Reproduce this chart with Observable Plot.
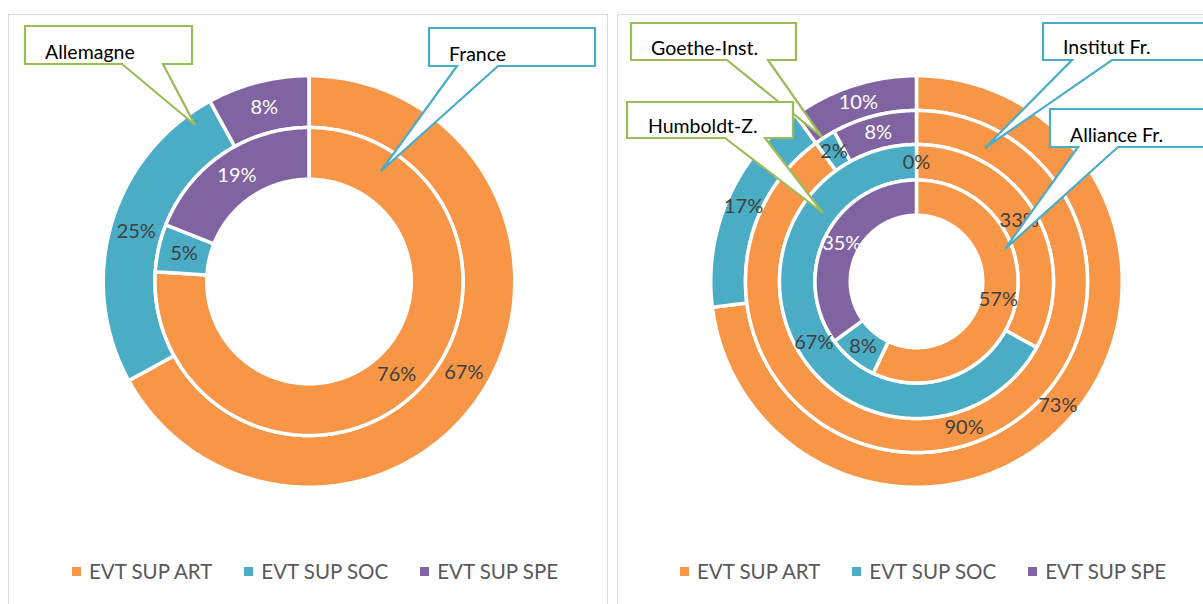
<!DOCTYPE html>
<html><head><meta charset="utf-8">
<script src="https://cdn.jsdelivr.net/npm/d3@7"></script>
<script src="https://cdn.jsdelivr.net/npm/@observablehq/plot@0.6"></script>
<style>
body{margin:0;width:1203px;height:604px;overflow:hidden;background:#fff;font-family:Lato,"Open Sans",sans-serif;position:relative}
.panel{position:absolute;border:1.5px solid #D9D9D9;pointer-events:none;z-index:3;box-sizing:border-box}
.chart{position:absolute;top:0}
.chart svg{background:transparent !important;overflow:hidden}
.legend{position:absolute;top:559px;display:flex;align-items:center;font-size:20.5px;color:#595959;white-space:nowrap;z-index:4}
.legend .item{display:flex;align-items:center;margin-right:32px}
.legend .sw{width:9px;height:9px;margin-right:8px}
</style></head><body>
<div id="left" class="chart" style="left:0"></div>
<div id="right" class="chart" style="left:612px"></div>
<div class="panel" style="left:8px;top:14px;width:600px;height:620px"></div>
<div class="panel" style="left:617px;top:14px;width:620px;height:620px"></div>
<div id="legL" class="legend" style="left:72px"></div>
<div id="legR" class="legend" style="left:680px"></div>
<script>
// ---- data ----
const categories = ["EVT SUP ART", "EVT SUP SOC", "EVT SUP SPE"];
const colors = ["#F79646", "#4BACC6", "#8064A2"];
// left chart: rings from outside to inside
const leftOuter = [67, 25, 8];
const leftInner = [76, 5, 19];
// right chart: rings from outside to inside
const rightRing1 = [73, 17, 10];
const rightRing2 = [90, 2, 8];
const rightRing3 = [33, 67, 0];
const rightRing4 = [57, 8, 35];
const leftCallouts = ["Allemagne", "France"];
const rightCallouts = ["Goethe-Inst.", "Humboldt-Z.", "Institut Fr.", "Alliance Fr."];

// ---- layout (pixels) ----
const leftLayout = {offset: 0, width: 612, cx: 308.5, cy: 281, radii: [205.75, 154, 102.25]};
const rightLayout = {offset: 612, width: 591, cx: 916, cy: 281, radii: [205.75, 171, 137, 101.5, 66.25]};
const calloutGeom = {
  "Allemagne":   {box: [25, 26, 192, 64],   base: [122, 163], tip: [195, 125], tx: 45,   ty: 59,  color: "#9BBB59"},
  "France":      {box: [429, 28, 595, 66],  base: [457, 498], tip: [381, 171], tx: 449,  ty: 61,  color: "#4BACC6"},
  "Goethe-Inst.":{box: [631, 23, 796, 60],  base: [727, 768], tip: [822, 137], tx: 651,  ty: 55,  color: "#9BBB59"},
  "Humboldt-Z.": {box: [627, 102, 793, 138],base: [725, 765], tip: [823, 213], tx: 648,  ty: 133, color: "#9BBB59"},
  "Institut Fr.":{box: [1043, 23, 1230, 60],base: [1072, 1112], tip: [985, 148], tx: 1063, ty: 54, color: "#4BACC6"},
  "Alliance Fr.":{box: [1050, 109, 1230, 147], base: [1078, 1118], tip: [1005, 249], tx: 1070, ty: 142, color: "#4BACC6"}
};

function buildRings(rings, radii) {
  const points = [], labels = [];
  rings.forEach((values, ri) => {
    const r1 = radii[ri], r0 = radii[ri + 1];
    const total = d3.sum(values);
    let acc = 0;
    values.forEach((v, i) => {
      const a0 = acc / total * 2 * Math.PI;
      acc += v;
      const a1 = acc / total * 2 * Math.PI;
      const id = `r${ri}s${i}`;
      if (v > 0) {
        const n = Math.max(2, Math.ceil((a1 - a0) / (Math.PI / 360)));
        for (let k = 0; k <= n; k++) {
          const t = a0 + (a1 - a0) * k / n;
          points.push({id, series: categories[i], x: r1 * Math.sin(t), y: r1 * Math.cos(t)});
        }
        for (let k = n; k >= 0; k--) {
          const t = a0 + (a1 - a0) * k / n;
          points.push({id, series: categories[i], x: r0 * Math.sin(t), y: r0 * Math.cos(t)});
        }
      }
      const am = (a0 + a1) / 2, rm = (r0 + r1) / 2;
      labels.push({series: categories[i], value: v, text: `${v}%`, x: rm * Math.sin(am), y: rm * Math.cos(am)});
    });
  });
  return {points, labels};
}

const isLight = d => d.series === "EVT SUP SPE" && d.value > 0;

function drawPanel(el, rings, layout, callouts) {
  const {points, labels} = buildRings(rings, layout.radii);
  const cxl = layout.cx - layout.offset;
  const plot = Plot.plot({
    width: layout.width, height: 604, margin: 0,
    x: {domain: [-250, 250], range: [cxl - 250, cxl + 250], axis: null},
    y: {domain: [-250, 250], range: [layout.cy + 250, layout.cy - 250], axis: null},
    color: {domain: categories, range: colors},
    style: {background: "transparent", overflow: "hidden"},
    marks: [
      Plot.line(points, {x: "x", y: "y", z: "id", fill: "series", stroke: "white", strokeWidth: 3.5, curve: "linear-closed"}),
      Plot.text(labels.filter(d => !isLight(d)), {x: "x", y: "y", text: "text", fill: "#404040", fontSize: 20, fontFamily: "Lato, 'Open Sans', sans-serif"}),
      Plot.text(labels.filter(isLight), {x: "x", y: "y", text: "text", fill: "white", fontSize: 20, fontFamily: "Lato, 'Open Sans', sans-serif"})
    ]
  });
  const svg = d3.select(plot);
  const g = svg.append("g").attr("transform", `translate(${-layout.offset},0)`);
  callouts.forEach(name => {
    const c = calloutGeom[name];
    const [x0, y0, x1, y1] = c.box;
    const pts = [[x0, y0], [x1, y0], [x1, y1], [c.base[1], y1], c.tip, [c.base[0], y1], [x0, y1]];
    g.append("path").attr("d", "M" + pts.map(p => p.join(",")).join("L") + "Z")
      .attr("fill", "white").attr("stroke", c.color).attr("stroke-width", 2.2).attr("stroke-linejoin", "miter");
    g.append("text").attr("x", c.tx).attr("y", c.ty).text(name)
      .attr("text-anchor", "start")
      .attr("font-family", "Lato, 'Open Sans', sans-serif").attr("font-size", 19.5).attr("fill", "#000");
  });
  el.appendChild(plot);
}

drawPanel(document.getElementById("left"), [leftOuter, leftInner], leftLayout, leftCallouts);
drawPanel(document.getElementById("right"), [rightRing1, rightRing2, rightRing3, rightRing4], rightLayout, rightCallouts);

function legend(el) {
  categories.forEach((c, i) => {
    const item = document.createElement("div");
    item.className = "item";
    item.innerHTML = `<div class="sw" style="background:${colors[i]}"></div><span>${c}</span>`;
    el.appendChild(item);
  });
}
legend(document.getElementById("legL"));
legend(document.getElementById("legR"));
</script>
</body></html>
